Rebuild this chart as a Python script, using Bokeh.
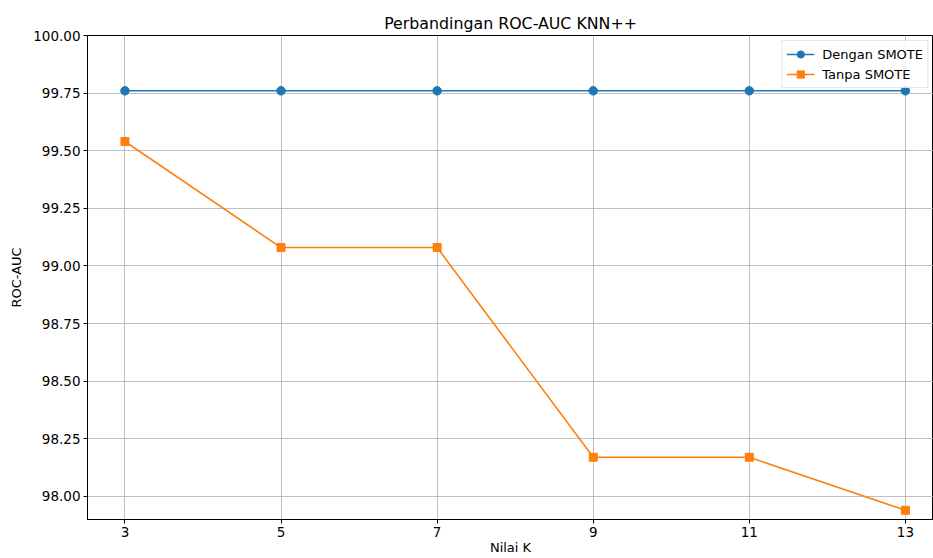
from bokeh.plotting import figure
from bokeh.models import Range1d, FixedTicker, NumeralTickFormatter, Legend, LegendItem
from bokeh.embed import file_html
from bokeh.resources import INLINE

k_values = [3, 5, 7, 9, 11, 13]
dengan_smote = [99.76, 99.76, 99.76, 99.76, 99.76, 99.76]
tanpa_smote = [99.54, 99.08, 99.08, 98.17, 98.17, 97.94]
y_ticks = [98.0, 98.25, 98.5, 98.75, 99.0, 99.25, 99.5, 99.75, 100.0]

BLUE = "#1f77b4"
ORANGE = "#ff7f0e"
FONT = "DejaVu Sans"

p = figure(width=933, height=558, output_backend="svg", toolbar_location=None,
           x_range=Range1d(2.52, 13.36), y_range=Range1d(97.9, 100.0),
           min_border_left=87, min_border_right=0, min_border_top=35, min_border_bottom=39,
           title="Perbandingan ROC-AUC KNN++")

p.title.align = "center"
p.title.text_font = FONT
p.title.text_font_size = "15.8px"
p.title.text_font_style = "normal"
p.title.text_color = "#000000"
p.title.standoff = 5
p.title.offset = 0

r1l = p.line(k_values, dengan_smote, line_color=BLUE, line_width=1.6)
r1s = p.scatter(k_values, dengan_smote, marker="circle", size=8.5, fill_color=BLUE, line_color=BLUE)
r2l = p.line(k_values, tanpa_smote, line_color=ORANGE, line_width=1.6)
r2s = p.scatter(k_values, tanpa_smote, marker="square", size=8, fill_color=ORANGE, line_color=ORANGE)

legend = Legend(items=[LegendItem(label="Dengan SMOTE", renderers=[r1l, r1s]),
                       LegendItem(label="Tanpa SMOTE", renderers=[r2l, r2s])],
                location="top_right")
legend.label_text_font = FONT
legend.label_text_font_size = "13px"
legend.label_text_color = "#000000"
legend.glyph_width = 28
legend.glyph_height = 18
legend.label_standoff = 8
legend.spacing = 2
legend.padding = 4
legend.margin = 5
legend.border_line_color = "#d0d0d0"
legend.border_line_width = 1
legend.background_fill_alpha = 0.8
p.add_layout(legend)

p.xaxis.ticker = FixedTicker(ticks=k_values)
p.yaxis.ticker = FixedTicker(ticks=y_ticks)
p.yaxis.formatter = NumeralTickFormatter(format="0.00")
p.xaxis.axis_label = "Nilai K"
p.yaxis.axis_label = "ROC-AUC"

for ax in (p.xaxis, p.yaxis):
    ax.axis_label_text_font = FONT
    ax.axis_label_text_font_size = "13px"
    ax.axis_label_text_font_style = "normal"
    ax.axis_label_text_color = "#000000"
    ax.major_label_text_font = FONT
    ax.major_label_text_font_size = "13.5px"
    ax.major_label_text_color = "#000000"
    ax.axis_line_color = "#000000"
    ax.major_tick_line_color = "#000000"
    ax.major_tick_in = 0
    ax.major_tick_out = 4
    ax.minor_tick_line_color = None
    ax.major_label_standoff = 3

p.xaxis.axis_label_standoff = 0
p.yaxis.axis_label_standoff = 6

p.grid.grid_line_color = "#b0b0b0"
p.grid.grid_line_width = 0.8
p.outline_line_color = "#000000"
p.outline_line_width = 1
p.background_fill_color = "white"
p.border_fill_color = "white"

open("out.html", "w").write(file_html(p, INLINE))
